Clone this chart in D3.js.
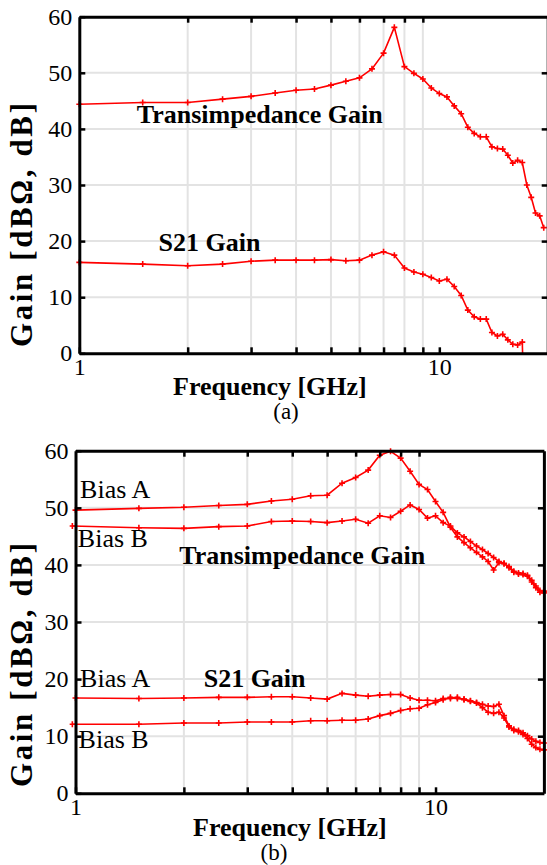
<!DOCTYPE html>
<html>
<head>
<meta charset="utf-8">
<script src="https://cdn.jsdelivr.net/npm/d3@7"></script>
<style>
  body { margin: 0; background: #fff; }
  svg text { font-family: "Liberation Serif", "Times New Roman", serif; }
</style>
</head>
<body>
<div id="chart"></div>
<script>
// ---- panel (a): measured gain vs frequency [GHz, dB]
const tiaFreqA = [1, 1.5, 2, 2.5, 3, 3.5, 4, 4.5, 5, 5.5, 6, 6.5, 7, 7.5, 8, 8.5, 9, 9.5, 10, 10.5,
  11, 11.5, 12, 12.5, 13, 13.5, 14, 14.5, 15, 15.5, 16, 16.5, 17, 17.5, 18, 18.5, 19, 19.5];
const tiaGainA = [44.4, 44.7, 44.7, 45.3, 45.8, 46.4, 46.9, 47.1, 47.8, 48.5, 49.1, 50.7, 53.5, 58.1, 51.1, 49.9, 48.9, 47.3, 46.3, 45.7,
  44.1, 42.7, 40.3, 39.2, 38.6, 38.6, 36.8, 36.5, 36.4, 35.3, 33.9, 34.4, 34.0, 30.0, 27.8, 25.0, 24.5, 22.4];

const s21FreqA = [1, 1.5, 2, 2.5, 3, 3.5, 4, 4.5, 5, 5.5, 6, 6.5, 7, 7.5, 8, 8.5, 9, 9.5, 10, 10.5,
  11, 11.5, 12, 12.5, 13, 13.5, 14, 14.5, 15, 15.5, 16, 16.5, 17, 17.05];
const s21GainA = [16.2, 15.9, 15.6, 15.9, 16.4, 16.6, 16.6, 16.6, 16.7, 16.5, 16.6, 17.5, 18.1, 17.5, 15.2, 14.5, 14.1, 13.5, 12.9, 13.2,
  11.9, 10.3, 7.7, 6.5, 6.1, 6.1, 3.7, 3.1, 3.4, 2.4, 1.6, 1.5, 2.0, -1];

// ---- panel (b): two bias points
const freqB = [1, 1.5, 2, 2.5, 3, 3.5, 4, 4.5, 5, 5.5, 6, 6.5, 7, 7.5, 8, 8.5, 9, 9.5, 10, 10.5,
  11, 11.5, 12, 12.5, 13, 13.5, 14, 14.5, 15, 15.5, 16, 16.5, 17, 17.5, 18, 18.5, 19, 19.5, 20];
const freqBiasB = [0.98, 1.5, 2, 2.5, 3, 3.5, 4, 4.5, 5, 5.5, 6, 6.5, 7, 7.5, 8, 8.5, 9, 9.5, 10, 10.5,
  11, 11.5, 12, 12.5, 13, 13.5, 14, 14.5, 15, 15.5, 16, 16.5, 17, 17.5, 18, 18.5, 19, 19.5, 20];
const tiaBiasA = [49.6, 49.9, 50.1, 50.4, 50.6, 51.2, 51.5, 52.1, 52.2, 54.3, 55.3, 56.6, 59.2, 59.9, 58.7, 56.4, 54.1, 53.2, 51.1, 49.2,
  46.6, 44.9, 43.9, 43.0, 42.2, 41.4, 40.6, 39.1, 40.4, 40.2, 39.7, 38.9, 38.4, 38.3, 38.0, 37.0, 36.0, 35.2, 35.1];
const tiaBiasB = [46.8, 46.5, 46.4, 46.7, 46.8, 47.6, 47.7, 47.6, 47.4, 47.7, 48.0, 47.3, 48.6, 48.3, 49.4, 50.5, 49.7, 48.2, 48.6, 47.4,
  46.8, 45.6, 44.9, 44.1, 43.3, 42.7, 42.0, 41.3, 40.6, 40.3, 39.5, 38.7, 38.6, 38.5, 38.2, 37.3, 36.3, 35.5, 35.4];
const s21BiasA = [16.7, 16.6, 16.7, 16.8, 16.8, 16.9, 16.9, 16.7, 16.5, 17.5, 17.2, 17.0, 17.2, 17.3, 17.3, 16.7, 16.3, 16.3, 16.2, 16.6,
  16.6, 16.8, 16.4, 16.1, 15.9, 15.6, 15.3, 15.2, 15.6, 13.6, 11.8, 11.2, 11.0, 10.6, 10.1, 9.5, 9.1, 8.9, 8.8];
const s21BiasB = [12.1, 12.1, 12.3, 12.3, 12.5, 12.5, 12.5, 12.7, 12.7, 12.8, 12.8, 13.0, 13.6, 14.0, 14.5, 14.8, 14.9, 15.5, 15.9, 16.4,
  16.8, 16.6, 16.5, 16.2, 15.8, 15.0, 14.2, 14.0, 14.2, 13.2, 11.6, 11.0, 10.8, 10.3, 9.6, 8.6, 8.0, 7.7, 7.6];

// ---- axes
const yTicks = [0, 10, 20, 30, 40, 50, 60];
const xLabelTicks = [1, 10];
const xMinorTicks = [2, 3, 4, 5, 6, 7, 8, 9];
const xDomain = [1, 20];
const yDomain = [0, 60];

const width = 547, height = 865;
const red = '#ff0000';

const svg = d3.select('#chart').append('svg')
  .attr('width', width)
  .attr('height', height);

function zip(fs, gs) {
  return fs.map((f, i) => ({ f: f, g: gs[i] }));
}

function drawPanel(cfg) {
  const x = d3.scaleLog().domain(xDomain).range([cfg.left, cfg.right]);
  const y = d3.scaleLinear().domain(yDomain).range([cfg.bottom, cfg.top]);
  const g = svg.append('g');

  // grid
  g.append('g').selectAll('line.hgrid')
    .data(yTicks.slice(1, -1))
    .enter().append('line')
      .attr('x1', cfg.left).attr('x2', cfg.right)
      .attr('y1', d => y(d)).attr('y2', d => y(d))
      .attr('stroke', '#e3e3e3').attr('stroke-width', 2);
  g.append('g').selectAll('line.vgrid')
    .data(xMinorTicks)
    .enter().append('line')
      .attr('x1', d => x(d)).attr('x2', d => x(d))
      .attr('y1', cfg.top).attr('y2', cfg.bottom)
      .attr('stroke', '#e3e3e3').attr('stroke-width', 2);

  // clip for curves
  const clipId = 'clip-' + cfg.id;
  g.append('clipPath').attr('id', clipId)
    .append('rect')
      .attr('x', cfg.left - 6).attr('y', cfg.top - 6)
      .attr('width', cfg.right - cfg.left + 12)
      .attr('height', cfg.bottom - cfg.top + 6);

  const line = d3.line().x(d => x(d.f)).y(d => y(d.g));
  const curves = g.append('g').attr('clip-path', `url(#${clipId})`);

  cfg.series.forEach(s => {
    curves.append('path')
      .datum(s)
      .attr('fill', 'none')
      .attr('stroke', red)
      .attr('stroke-width', 1.6)
      .attr('d', line);
    curves.append('g').selectAll('path')
      .data(s)
      .enter().append('path')
        .attr('d', d => `M${x(d.f) - 3},${y(d.g)}h6M${x(d.f)},${y(d.g) - 3}v6`)
        .attr('stroke', red)
        .attr('stroke-width', 1.6);
  });

  // frame axes, ticks pointing inward
  const xAll = xLabelTicks.concat(xMinorTicks).sort((a, b) => a - b);
  const axisBottom = d3.axisBottom(x)
    .tickValues(xAll)
    .tickSize(-6)
    .tickSizeOuter(0)
    .tickPadding(5)
    .tickFormat(d => xLabelTicks.includes(d) ? d : '');
  const axisTop = d3.axisTop(x).tickValues(xMinorTicks).tickSize(-6).tickSizeOuter(0).tickFormat('');
  const axisLeft = d3.axisLeft(y).tickValues(yTicks).tickSize(-6).tickSizeOuter(0).tickPadding(7);
  const axisRight = d3.axisRight(y).tickValues(yTicks.slice(1, -1)).tickSize(-6).tickSizeOuter(0).tickFormat('');

  const axes = [
    [axisBottom, `translate(0,${cfg.bottom})`],
    [axisTop, `translate(0,${cfg.top})`],
    [axisLeft, `translate(${cfg.left},0)`],
    [axisRight, `translate(${cfg.right},0)`]
  ];
  axes.forEach(([ax, tr]) => {
    const a = g.append('g').attr('transform', tr).call(ax);
    a.select('.domain').attr('stroke', '#000').attr('stroke-width', 3);
    a.selectAll('.tick line').attr('stroke', '#000').attr('stroke-width', 2.5);
    a.selectAll('.tick text')
      .attr('fill', '#000')
      .style('font-family', '"Liberation Serif", "Times New Roman", serif')
      .style('font-size', '24px');
  });

  // axis titles
  g.append('text')
    .attr('x', cfg.xTitle[0]).attr('y', cfg.xTitle[1])
    .style('font-size', '26px').style('font-weight', 'bold')
    .text('Frequency [GHz]');
  g.append('text')
    .attr('transform', `translate(${cfg.yTitle[0]},${cfg.yTitle[1]}) rotate(-90)`)
    .attr('text-anchor', 'middle')
    .attr('textLength', 244)
    .attr('lengthAdjust', 'spacing')
    .style('font-size', '31px').style('font-weight', 'bold')
    .text('Gain [dBΩ, dB]');
  g.append('text')
    .attr('x', cfg.caption[0]).attr('y', cfg.caption[1])
    .attr('text-anchor', 'middle')
    .style('font-size', '23px')
    .text(cfg.captionText);

  // annotations placed in data coordinates
  cfg.notes.forEach(n => {
    g.append('text')
      .attr('x', x(n.f)).attr('y', y(n.g))
      .style('font-size', '26px')
      .style('font-weight', n.bold ? 'bold' : 'normal')
      .text(n.text);
  });
}

drawPanel({
  id: 'a',
  left: 79.3, right: 547.7, top: 16.7, bottom: 353.3,
  series: [zip(tiaFreqA, tiaGainA), zip(s21FreqA, s21GainA)],
  xTitle: [173, 395],
  yTitle: [32, 225],
  caption: [286, 419],
  captionText: '(a)',
  notes: [
    { text: 'Transimpedance Gain', f: 1.445, g: 41.05, bold: true },
    { text: 'S21 Gain', f: 1.66, g: 18.3, bold: true }
  ]
});

drawPanel({
  id: 'b',
  left: 75.5, right: 543.9, top: 450.7, bottom: 793.3,
  series: [zip(freqB, tiaBiasA), zip(freqBiasB, tiaBiasB), zip(freqB, s21BiasA), zip(freqBiasB, s21BiasB)],
  xTitle: [193, 836],
  yTitle: [32, 665],
  caption: [274, 860],
  captionText: '(b)',
  notes: [
    { text: 'Bias A', f: 1.03, g: 51.65, bold: false },
    { text: 'Bias B', f: 1.015, g: 43.2, bold: false },
    { text: 'Transimpedance Gain', f: 1.942, g: 40.1, bold: true },
    { text: 'Bias A', f: 1.03, g: 18.6, bold: false },
    { text: 'S21 Gain', f: 2.27, g: 18.7, bold: true },
    { text: 'Bias B', f: 1.02, g: 7.98, bold: false }
  ]
});
</script>
</body>
</html>
